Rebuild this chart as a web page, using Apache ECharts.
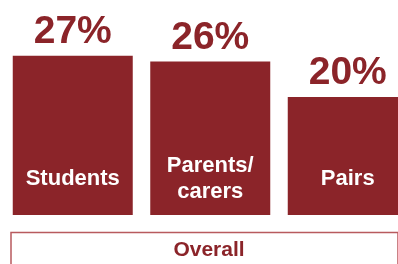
<!DOCTYPE html>
<html>
<head>
<meta charset="utf-8">
<script src="https://cdn.jsdelivr.net/npm/echarts@6/dist/echarts.min.js"></script>
<style>
  html, body { margin: 0; padding: 0; background: #fff; }
  #chart { width: 398px; height: 264px; }
</style>
</head>
<body>
<div id="chart"></div>
<script>
// groups and their share (%)
const categories = ["Students", "Parents/\ncarers", "Pairs"];
const shares = [27, 26, 20];
// height (in %) where the group names sit inside the bars
const namePos = [6.1, 6.1, 6.1];
const groupTitle = "Overall";

const red = "#8b2429";
const font = "'Liberation Sans', Arial, sans-serif";

const chart = echarts.init(document.getElementById("chart"));

chart.setOption({
  animation: false,
  grid: { left: 4, width: 412.5, top: 38, bottom: 49, outerBoundsMode: "none" },
  xAxis: {
    type: "category",
    data: categories,
    axisLine: { show: false },
    axisTick: { show: false },
    axisLabel: { show: false }
  },
  yAxis: {
    type: "value",
    min: 0,
    max: 30,
    show: false
  },
  series: [
    {
      type: "bar",
      data: shares,
      barWidth: 120,
      itemStyle: { color: red },
      label: {
        show: true,
        position: "top",
        distance: 4,
        formatter: "{c}%",
        color: red,
        fontFamily: font,
        fontWeight: "bold",
        fontSize: 39
      }
    },
    {
      // group names, drawn inside the bars
      type: "scatter",
      data: namePos,
      symbolSize: 1,
      itemStyle: { color: "transparent", opacity: 1 },
      z: 5,
      label: {
        show: true,
        position: "inside",
        formatter: (p) => categories[p.dataIndex],
        color: "#ffffff",
        opacity: 1,
        fontFamily: font,
        fontWeight: "bold",
        fontSize: 22,
        lineHeight: 26
      }
    }
  ],
  graphic: [
    {
      type: "rect",
      shape: { x: 11, y: 232.5, width: 387, height: 40 },
      style: { fill: "none", stroke: "#b85a5e", lineWidth: 1.5 }
    },
    {
      type: "text",
      x: 209,
      y: 250,
      style: {
        text: groupTitle,
        fill: red,
        font: "bold 21px " + font,
        align: "center",
        verticalAlign: "middle"
      }
    }
  ]
});
</script>
</body>
</html>
